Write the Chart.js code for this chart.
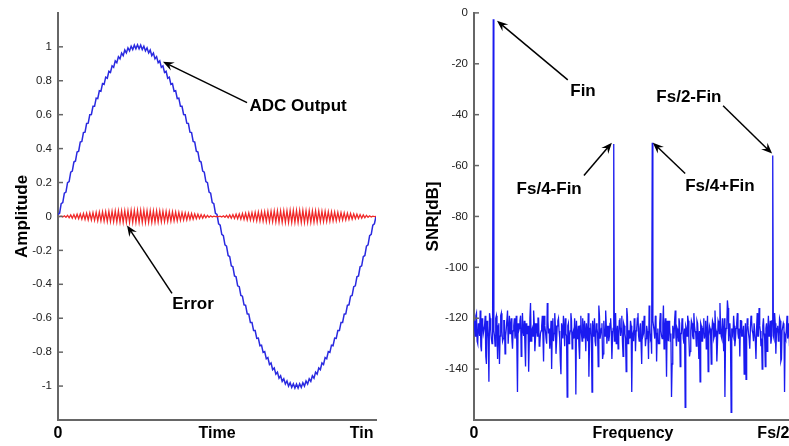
<!DOCTYPE html>
<html>
<head>
<meta charset="utf-8">
<script src="https://cdn.jsdelivr.net/npm/chart.js@4/dist/chart.umd.min.js"></script>
<style>
html,body{margin:0;padding:0;background:#fff;overflow:hidden;width:789px;height:446px;}
#left{position:absolute;left:0;top:0;}
#right{position:absolute;left:410px;top:0;}
</style>
</head>
<body>
<canvas id="left" width="400" height="446"></canvas>
<canvas id="right" width="400" height="446"></canvas>
<script>
/* time domain: 201 samples over one input period */
const adcOutput = [
0.012,0.019,0.075,0.082,0.137,0.144,0.199,0.206,0.261,0.267,
0.321,0.327,0.380,0.385,0.438,0.442,0.494,0.497,0.548,0.550,
0.600,0.601,0.649,0.649,0.697,0.695,0.741,0.738,0.783,0.778,
0.821,0.815,0.856,0.849,0.888,0.879,0.917,0.906,0.942,0.929,
0.963,0.948,0.981,0.964,0.994,0.976,1.004,0.984,1.010,0.988,
1.012,0.988,1.010,0.984,1.004,0.976,0.994,0.964,0.981,0.948,
0.963,0.929,0.942,0.906,0.917,0.879,0.888,0.849,0.856,0.815,
0.821,0.778,0.783,0.738,0.741,0.695,0.697,0.649,0.649,0.601,
0.600,0.550,0.548,0.497,0.494,0.442,0.438,0.385,0.380,0.327,
0.321,0.267,0.261,0.206,0.199,0.144,0.137,0.082,0.075,0.019,
0.012,-0.043,-0.051,-0.106,-0.113,-0.168,-0.175,-0.230,-0.237,-0.291,
-0.297,-0.351,-0.356,-0.409,-0.414,-0.466,-0.470,-0.521,-0.524,-0.574,
-0.576,-0.625,-0.625,-0.673,-0.673,-0.719,-0.717,-0.762,-0.759,-0.802,
-0.797,-0.839,-0.832,-0.873,-0.864,-0.903,-0.893,-0.930,-0.918,-0.953,
-0.939,-0.972,-0.957,-0.988,-0.970,-1.000,-0.980,-1.008,-0.986,-1.012,
-0.988,-1.012,-0.986,-1.008,-0.980,-1.000,-0.970,-0.988,-0.957,-0.972,
-0.939,-0.953,-0.918,-0.930,-0.893,-0.903,-0.864,-0.873,-0.832,-0.839,
-0.797,-0.802,-0.759,-0.762,-0.717,-0.719,-0.673,-0.673,-0.625,-0.625,
-0.576,-0.574,-0.524,-0.521,-0.470,-0.466,-0.414,-0.409,-0.356,-0.351,
-0.297,-0.291,-0.237,-0.230,-0.175,-0.168,-0.113,-0.106,-0.051,-0.043,
0.000
];

const errorSignal = [
0,-0.001,0.002,-0.003,0.004,-0.005,0.007,-0.008,0.009,-0.010,
0.011,-0.012,0.013,-0.014,0.015,-0.016,0.017,-0.018,0.019,-0.020,
0.021,-0.021,0.022,-0.023,0.024,-0.025,0.026,-0.026,0.027,-0.028,
0.028,-0.029,0.030,-0.030,0.031,-0.031,0.032,-0.032,0.033,-0.033,
0.033,-0.034,0.034,-0.034,0.034,-0.035,0.035,-0.035,0.035,-0.035,
0.035,-0.035,0.035,-0.035,0.035,-0.035,0.034,-0.034,0.034,-0.034,
0.033,-0.033,0.033,-0.032,0.032,-0.031,0.031,-0.030,0.030,-0.029,
0.028,-0.028,0.027,-0.026,0.026,-0.025,0.024,-0.023,0.022,-0.021,
0.021,-0.020,0.019,-0.018,0.017,-0.016,0.015,-0.014,0.013,-0.012,
0.011,-0.010,0.009,-0.008,0.007,-0.005,0.004,-0.003,0.002,-0.001,
0,-0.001,0.002,-0.003,0.004,-0.005,0.007,-0.008,0.009,-0.010,
0.011,-0.012,0.013,-0.014,0.015,-0.016,0.017,-0.018,0.019,-0.020,
0.021,-0.021,0.022,-0.023,0.024,-0.025,0.026,-0.026,0.027,-0.028,
0.028,-0.029,0.030,-0.030,0.031,-0.031,0.032,-0.032,0.033,-0.033,
0.033,-0.034,0.034,-0.034,0.034,-0.035,0.035,-0.035,0.035,-0.035,
0.035,-0.035,0.035,-0.035,0.035,-0.035,0.034,-0.034,0.034,-0.034,
0.033,-0.033,0.033,-0.032,0.032,-0.031,0.031,-0.030,0.030,-0.029,
0.028,-0.028,0.027,-0.026,0.026,-0.025,0.024,-0.023,0.022,-0.021,
0.021,-0.020,0.019,-0.018,0.017,-0.016,0.015,-0.014,0.013,-0.012,
0.011,-0.010,0.009,-0.008,0.007,-0.005,0.004,-0.003,0.002,-0.001,
0
];

const timeTickPos = [0, 100, 191];
const timeTickLabels = ['0', 'Time', 'Tin'];
const ampTicks = [1, 0.8, 0.6, 0.4, 0.2, 0, -0.2, -0.4, -0.6, -0.8, -1];

/* spectrum, bins 0..512 (= Fs/2): even bins */
const noiseEven = [
-121,-127,-118,-130,-124,-117,-133,-122,-126,-119,-138,-123,-145,-120,-128,-116,
-125,-131,-119,-136,-122,-127,-118,-129,-121,-134,-124,-117,-130,-126,-120,-132,
-123,-128,-119,-149,-125,-121,-135,-118,-127,-131,-122,-126,-141,-120,-129,-124,
-117,-133,-122,-127,-120,-130,-125,-119,-137,-123,-128,-114,-126,-132,-121,-125,
-129,-118,-134,-123,-120,-128,-142,-124,-119,-131,-126,-151,-122,-127,-118,-132,
-125,-120,-150,-128,-123,-136,-119,-129,-124,-121,-133,-126,-118,-130,-122,-149,
-127,-120,-131,-124,-139,-119,-128,-122,-134,-125,-117,-130,-123,-127,-120,-136,
-124,-129,-118,-126,-132,-121,-127,-119,-135,-123,-128,-116,-130,-125,-121,-149,
-126,-120,-133,-124,-118,-129,-122,-138,-127,-119,-131,-123,-126,-115,-128,-134,
-121,-125,-119,-137,-124,-130,-118,-127,-122,-132,-120,-143,-126,-121,-129,-151,
-123,-128,-117,-131,-125,-120,-139,-126,-122,-130,-155,-124,-119,-128,-133,-121,
-127,-118,-125,-131,-122,-136,-145,-123,-129,-120,-126,-132,-119,-127,-124,-138,
-121,-128,-117,-125,-130,-122,-114,-127,-120,-133,-151,-124,-113,-129,-122,-157,
-126,-119,-131,-124,-118,-128,-135,-121,-127,-123,-130,-144,-120,-126,-132,-119,
-125,-129,-122,-136,-118,-127,-123,-131,-140,-120,-128,-124,-133,-119,-126,-130,
-121,-127,-118,-134,-124,-129,-120,-137,-125,-122,-149,-128,-119,-126,-131,-123,
-127
];
/* odd bins */
const noiseOdd = [
-124,-119,-129,-122,-127,-131,-120,-126,-123,-135,-121,-128,-118,-125,-130,-122,
-127,-120,-126,-123,-138,-119,-125,-128,-121,-127,-124,-130,-119,-123,-128,-125,
-120,-126,-131,-122,-124,-119,-128,-125,-121,-139,-126,-123,-129,-114,-125,-127,
-122,-128,-124,-120,-131,-126,-123,-127,-119,-125,-130,-121,-124,-128,-140,-120,
-126,-123,-129,-121,-125,-137,-122,-128,-124,-120,-127,-123,-130,-125,-121,-126,
-128,-124,-121,-127,-131,-123,-126,-120,-128,-125,-122,-129,-143,-124,-127,-121,
-125,-129,-122,-126,-115,-128,-124,-136,-121,-127,-123,-126,-129,-122,-125,-128,
-121,-126,-130,-123,-127,-120,-124,-129,-122,-126,-141,-119,-125,-128,-123,-127,
-129,-122,-125,-120,-127,-124,-130,-121,-126,-123,-128,-125,-136,-122,-127,-124,
-123,-128,-121,-126,-130,-122,-125,-128,-115,-124,-127,-121,-129,-123,-126,-138,
-125,-121,-127,-124,-129,-122,-126,-120,-128,-124,-123,-127,-121,-135,-125,-122,
-128,-123,-126,-121,-127,-125,-122,-129,-124,-128,-121,-126,-141,-123,-127,-125,
-122,-127,-124,-137,-121,-126,-123,-128,-125,-120,-127,-123,-116,-125,-129,-124,
-127,-123,-128,-122,-126,-124,-121,-127,-125,-142,-122,-126,-123,-128,-124,-121,
-126,-122,-129,-124,-127,-116,-125,-128,-123,-126,-139,-122,-125,-127,-121,-128,
-124,-128,-122,-126,-123,-127,-121,-136,-125,-123,-127,-124,-128,-122,-126,-125
];
const toneBins = [31, 225, 287, 481];
const toneDb = [-2.5, -51.5, -51, -56];

const freqTickPos = [0, 256, 482];
const freqTickLabels = ['0', 'Frequency', 'Fs/2'];
const snrTicks = [0, -20, -40, -60, -80, -100, -120, -140];

Chart.defaults.font.family = "'Liberation Sans', Arial, sans-serif";

// arrows + labels, and MATLAB style inward ticks
const arrowNotes = {
  id: 'arrowNotes',
  afterDraw(chart, args, opts) {
    const ctx = chart.ctx;
    const xs = chart.scales.x, ys = chart.scales.y;
    ctx.save();
    ctx.strokeStyle = '#666';
    ctx.lineWidth = 1.5;
    ys.ticks.forEach(t => {
      const py = ys.getPixelForValue(t.value);
      ctx.beginPath();
      ctx.moveTo(chart.chartArea.left, py);
      ctx.lineTo(chart.chartArea.left + 5, py);
      ctx.stroke();
    });
    ctx.fillStyle = '#000';
    ctx.strokeStyle = '#000';
    ctx.font = 'bold 17px ' + Chart.defaults.font.family;
    ctx.textAlign = 'center';
    ctx.textBaseline = 'middle';
    opts.items.forEach(n => {
      const x0 = xs.getPixelForValue(n.from[0]), y0 = ys.getPixelForValue(n.from[1]);
      const x1 = xs.getPixelForValue(n.to[0]), y1 = ys.getPixelForValue(n.to[1]);
      const a = Math.atan2(y1 - y0, x1 - x0);
      const c = Math.cos(a), s = Math.sin(a);
      ctx.lineWidth = 1.5;
      ctx.beginPath();
      ctx.moveTo(x0, y0);
      ctx.lineTo(x1 - 6 * c, y1 - 6 * s);
      ctx.stroke();
      ctx.beginPath();
      ctx.moveTo(x1, y1);
      ctx.lineTo(x1 - 11 * c + 4.5 * s, y1 - 11 * s - 4.5 * c);
      ctx.lineTo(x1 - 7 * c, y1 - 7 * s);
      ctx.lineTo(x1 - 11 * c - 4.5 * s, y1 - 11 * s + 4.5 * c);
      ctx.closePath();
      ctx.fill();
      ctx.fillText(n.text, xs.getPixelForValue(n.at[0]), ys.getPixelForValue(n.at[1]));
    });
    ctx.restore();
  }
};

function axisX(min, max, pos, labels) {
  return {
    type: 'linear', min: min, max: max,
    afterBuildTicks: s => { s.ticks = pos.map(v => ({value: v})); },
    afterFit: s => { s.height = 26; },
    grid: {display: false, drawTicks: false},
    border: {display: true, color: '#666', width: 2},
    ticks: {
      callback: (v, i) => labels[i],
      font: {size: 16, weight: 'bold'}, color: '#000',
      padding: 4, maxRotation: 0, autoSkip: false
    }
  };
}

function axisY(min, max, ticks, width, title, titlePad) {
  return {
    min: min, max: max,
    afterBuildTicks: s => { s.ticks = ticks.map(v => ({value: v})); },
    afterFit: s => { s.width = width; },
    grid: {display: false, drawTicks: false},
    border: {display: true, color: '#666', width: 2},
    ticks: {font: {size: 11.5}, color: '#222', padding: 6, autoSkip: false,
            callback: v => String(v)},
    title: {display: true, text: title, color: '#000',
            font: {size: 17, weight: 'bold'}, padding: {top: titlePad, bottom: 0}}
  };
}

/* LEFT: ADC output and error */
new Chart(document.getElementById('left'), {
  type: 'line',
  data: {
    datasets: [
      {data: errorSignal.map((v, i) => ({x: i, y: v})), borderColor: '#f02828', borderWidth: 1.3},
      {data: adcOutput.map((v, i) => ({x: i, y: v})), borderColor: '#2a2ae0', borderWidth: 1.5}
    ]
  },
  options: {
    responsive: false, animation: false, devicePixelRatio: 1,
    layout: {padding: {top: 12, right: 24, left: 0, bottom: 0}},
    elements: {point: {radius: 0}, line: {tension: 0}},
    plugins: {
      legend: {display: false}, tooltip: {enabled: false},
      arrowNotes: {items: [
        {text: 'ADC Output', from: [118.9, 0.671], to: [66, 0.912], at: [151, 0.647]},
        {text: 'Error', from: [71.7, -0.453], to: [43.4, -0.053], at: [84.9, -0.518]}
      ]}
    },
    scales: {
      x: axisX(0, 200, timeTickPos, timeTickLabels),
      y: axisY(-1.2, 1.2, ampTicks, 58, 'Amplitude', 12)
    }
  },
  plugins: [arrowNotes]
});

/* RIGHT: output spectrum */
const spectrum = [];
for (let b = 0; b <= 512; b++) {
  const t = toneBins.indexOf(b);
  const v = t >= 0 ? toneDb[t] : (b % 2 === 0 ? noiseEven[b / 2] : noiseOdd[(b - 1) / 2]);
  spectrum.push({x: b, y: v});
}

new Chart(document.getElementById('right'), {
  type: 'line',
  data: {
    datasets: [
      {data: spectrum, borderColor: '#1a1af0', borderWidth: 1.3}
    ]
  },
  options: {
    responsive: false, animation: false, devicePixelRatio: 1,
    layout: {padding: {top: 12, right: 18, left: 0, bottom: 0}},
    elements: {point: {radius: 0}, line: {tension: 0, borderJoinStyle: 'miter'}},
    plugins: {
      legend: {display: false}, tooltip: {enabled: false},
      arrowNotes: {items: [
        {text: 'Fin', from: [151, -26.3], to: [37, -3.1], at: [175.5, -31]},
        {text: 'Fs/2-Fin', from: [401, -36.5], to: [480, -55.3], at: [346, -33]},
        {text: 'Fs/4-Fin', from: [177, -63.9], to: [222, -51], at: [121, -69.4]},
        {text: 'Fs/4+Fin', from: [340, -63.1], to: [288, -51], at: [396, -68.2]}
      ]}
    },
    scales: {
      x: axisX(0, 512, freqTickPos, freqTickLabels),
      y: axisY(-160, 0, snrTicks, 64, 'SNR[dB]', 13)
    }
  },
  plugins: [arrowNotes]
});
</script>
</body>
</html>
